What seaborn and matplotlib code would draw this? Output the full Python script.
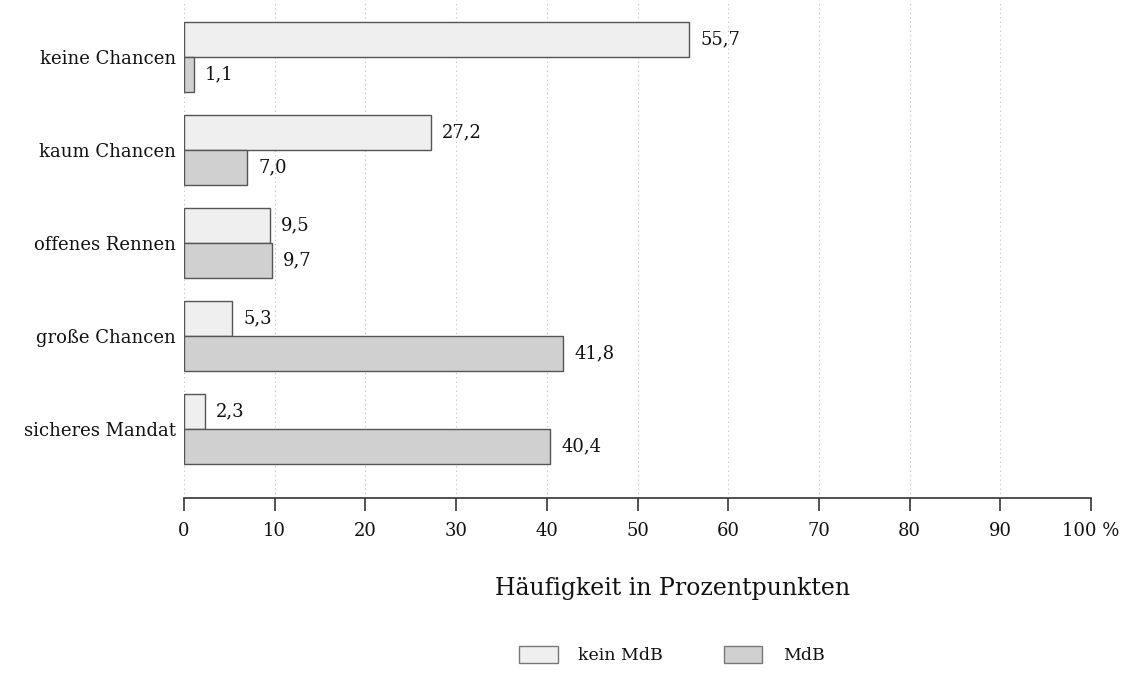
import pandas as pd
import matplotlib.pyplot as plt
import seaborn as sns

# Daten
categories = ['keine Chancen', 'kaum Chancen', 'offenes Rennen', 'große Chancen', 'sicheres Mandat']
kein_mdb = [55.7, 27.2, 9.5, 5.3, 2.3]
mdb = [1.1, 7.0, 9.7, 41.8, 40.4]
groups = ['kein MdB', 'MdB']
colors = ['#efefef', '#d0d0d0']
ticks = [0, 10, 20, 30, 40, 50, 60, 70, 80, 90, 100]

df = pd.DataFrame({
    'Kategorie': categories * 2,
    'Wert': kein_mdb + mdb,
    'Gruppe': [groups[0]] * len(categories) + [groups[1]] * len(categories),
})

sns.set_style('white')
plt.rcParams['font.family'] = ['DejaVu Serif']
plt.rcParams['text.color'] = '#111111'
plt.rcParams['xtick.color'] = '#111111'
plt.rcParams['ytick.color'] = '#111111'

fig = plt.figure(figsize=(11.28, 6.93), dpi=100)
ax = fig.add_axes([184 / 1128, 1 - 498 / 693, (1091 - 184) / 1128, 498 / 693])

sns.barplot(data=df, y='Kategorie', x='Wert', hue='Gruppe', order=categories,
            hue_order=groups, palette=colors, width=0.75, orient='h',
            edgecolor='#555555', linewidth=1.0, ax=ax, legend=False)

# Werte an den Balken
for cont in ax.containers:
    labels = [f'{v:.1f}'.replace('.', ',') for v in cont.datavalues]
    ax.bar_label(cont, labels=labels, padding=8, fontsize=13, color='#111111')

ax.set_xlim(0, 100)
ax.set_ylim(4.74, -0.61)
ax.set_xticks(ticks)
ax.set_xticklabels([str(t) for t in ticks[:-1]] + ['100 %'], fontsize=13)
ax.tick_params(axis='x', bottom=True, direction='out', length=9, width=1.2, color='#333333', pad=8)
ax.tick_params(axis='y', left=False, length=0, labelsize=13, pad=6)
ax.set_xlabel('')
ax.set_ylabel('')
ax.grid(axis='x', linestyle=(0, (1, 3)), color='#bbbbbb', linewidth=0.8)
ax.set_axisbelow(True)
for s in ['top', 'right', 'left']:
    ax.spines[s].set_visible(False)
ax.spines['bottom'].set_color('#333333')
ax.spines['bottom'].set_linewidth(1.2)

fig.text(673 / 1128, 1 - 588 / 693, 'Häufigkeit in Prozentpunkten', ha='center', va='center', fontsize=17)

handles = [plt.Rectangle((0, 0), 1, 1, facecolor=c, edgecolor='#777777') for c in colors]
fig.legend(handles, groups, loc='center', bbox_to_anchor=(672 / 1128, 1 - 655 / 693), ncol=2,
           frameon=False, fontsize=12.5, handlelength=2.2, handleheight=1.2, columnspacing=3.5,
           handletextpad=1.2)

fig.savefig('out.png', dpi=100)
